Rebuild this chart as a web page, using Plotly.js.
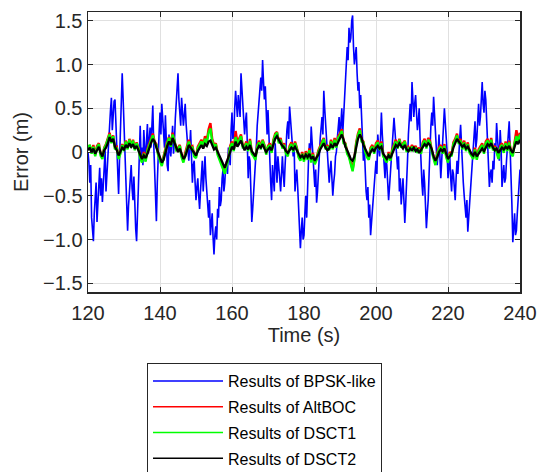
<!DOCTYPE html>
<html>
<head>
<meta charset="utf-8">
<script src="https://cdn.plot.ly/plotly-3.0.1.min.js"></script>
<style>html,body{margin:0;padding:0;background:#fff;}#chart{width:539px;height:472px;}</style>
</head>
<body>
<div id="chart"></div>
<script>
// Sampling: start time (s) and step of each series (s)
const tStart = 120;
const bpskStep = 0.25;
const otherStep = 0.5;

const seriesNames = ["Results of BPSK-like", "Results of AltBOC", "Results of DSCT1", "Results of DSCT2"];

// one row = 5 s
const bpsk = [
 0.00,-0.12,-0.35,-0.15,-0.75,-0.92,-1.02,-0.70,-0.55,-0.35,-0.80,-0.62,-0.35,-0.18,-0.50,-0.30,-0.57,-0.38,-0.20, 0.02,
-0.45,-0.22,-0.05, 0.15, 0.30, 0.48, 0.62, 0.25, 0.40, 0.58, 0.60, 0.30, 0.05,-0.20,-0.48,-0.10, 0.25, 0.55, 0.90, 0.62,
 0.35, 0.05,-0.20,-0.60,-0.90,-0.62,-0.45,-0.25,-0.15,-0.42,-0.55,-0.28,-0.70,-0.88,-1.02,-0.78,-0.40,-0.05, 0.30,-0.08,
 0.05,-0.15, 0.25, 0.05,-0.10, 0.12, 0.32,-0.02, 0.12, 0.28, 0.05, 0.25, 0.53, 0.10,-0.30,-0.55,-0.79,-0.35, 0.10, 0.22,
 0.45, 0.20, 0.55, 0.35, 0.15, 0.05, 0.42, 0.10,-0.15,-0.22, 0.20, 0.02,-0.05, 0.12, 0.30,-0.02, 0.10, 0.38, 0.55, 0.70,
 0.90, 0.60, 0.45, 0.30, 0.62, 0.50, 0.30, 0.42, 0.55, 0.32, 0.20, 0.05,-0.10, 0.05, 0.25,-0.05,-0.35,-0.15,-0.10,-0.35,
-0.55,-0.40,-0.30,-0.50,-0.65,-0.45,-0.20,-0.10,-0.45,-0.25,-0.05,-0.30,-0.50,-0.60,-0.75,-0.55,-0.95,-0.82,-0.70,-0.98,
-1.17,-0.95,-0.85,-1.00,-0.65,-0.75,-0.40,-0.62,-0.55,-0.30,-0.20,-0.45,-0.35,-0.15,-0.10,-0.25, 0.05,-0.05,-0.15, 0.25,
 0.45, 0.15, 0.20, 0.50, 0.70, 0.55, 0.40, 0.65, 0.55, 0.40, 0.90, 0.70, 0.50, 0.30, 0.20, 0.35, 0.45, 0.10,-0.30,-0.05,
-0.10,-0.45,-0.80,-0.65,-0.50,-0.30,-0.20, 0.05, 0.30, 0.45, 0.60, 0.75, 0.85, 0.70, 1.05, 0.80, 0.60, 0.75, 0.35, 0.20,
 0.48, 0.10,-0.10,-0.35,-0.55,-0.15,-0.30,-0.45, 0.10,-0.10,-0.35,-0.05,-0.15,-0.30,-0.45,-0.20,-0.05,-0.25,-0.40,-0.15,
 0.10, 0.25, 0.35, 0.15, 0.52, 0.38, 0.20, 0.00,-0.05, 0.10,-0.45,-0.30,-0.20,-0.40,-0.60,-0.85,-1.10,-0.90,-0.75,-1.00,
-0.95,-0.70,-0.50,-0.75,-0.30,-0.10, 0.10,-0.05, 0.29, 0.10,-0.10,-0.25,-0.40,-0.20,-0.58,-0.45,-0.30,-0.05, 0.15, 0.30,
 0.40, 0.20, 0.70, 0.50, 0.35, 0.15, 0.05,-0.15,-0.35,-0.20,-0.10,-0.30,-0.50,-0.35,-0.25,-0.05, 0.00, 0.15, 0.30, 0.40,
 0.15, 0.35, 0.50, 0.20, 0.35, 0.60, 0.80, 1.00, 1.20, 1.05, 1.42, 1.25, 1.30, 1.50, 1.56, 1.20, 1.00, 1.10, 1.20, 0.90,
 0.70, 0.80, 0.50, 0.65, 0.39, 0.15,-0.10, 0.05,-0.30,-0.45,-0.55,-0.40,-0.75,-0.60,-0.95,-0.80,-0.70,-0.55,-0.40,-0.20,
-0.10,-0.25, 0.20, 0.05,-0.05, 0.15, 0.45, 0.20, 0.05,-0.10,-0.30,-0.05,-0.15,-0.35,-0.55,-0.40,-0.25,-0.05, 0.15, 0.25,
 0.39, 0.25, 0.10,-0.10,-0.20,-0.05,-0.45,-0.30,-0.60,-0.45,-0.30,-0.55,-0.81,-0.60,-0.40,-0.10, 0.20, 0.40, 0.55, 0.35,
 0.80, 0.60, 0.40, 0.55, 0.65, 0.45, 0.25, 0.35, 0.50, 0.15,-0.20,-0.35,-0.50,-0.20,-0.35,-0.60,-0.87,-0.70,-0.55,-0.25,
 0.10, 0.30, 0.45, 0.30, 0.63, 0.45, 0.30, 0.05,-0.15, 0.00, 0.20,-0.05,-0.30,-0.10, 0.05, 0.30, 0.50, 0.35, 0.25, 0.00,
-0.30,-0.15,-0.05,-0.30,-0.45,-0.20,-0.25,-0.40,-0.55,-0.30,-0.10,-0.25, 0.05, 0.15, 0.31, 0.05,-0.20,-0.35,-0.50,-0.60,
-0.75,-0.55,-0.91,-0.75,-0.60,-0.40,-0.30,-0.10, 0.10, 0.25, 0.35, 0.05, 0.15, 0.35, 0.55, 0.30, 0.40, 0.60, 0.80, 0.55,
 0.45, 0.70, 0.60, 0.35, 0.10,-0.15,-0.40,-0.25,-0.20,-0.35,-0.10,-0.20, 0.10, 0.00, 0.33, 0.15, 0.05,-0.10, 0.25, 0.05,
-0.40,-0.20,-0.15,-0.35,-0.30,-0.10, 0.10, 0.20, 0.35, 0.05,-0.20,-0.60,-1.03,-0.80,-0.70,-0.95,-0.90,-0.70,-0.55,-0.35,
-0.20
];

const altboc = [
 0.06, 0.07, 0.00, 0.08,-0.03, 0.07, 0.10,-0.02,-0.06, 0.05,
 0.09, 0.16, 0.22, 0.12, 0.19, 0.05, 0.06,-0.06, 0.00, 0.09,
 0.03, 0.13, 0.05, 0.15, 0.07, 0.14, 0.04, 0.11, 0.05,-0.05,
-0.10, 0.00,-0.09, 0.03, 0.10, 0.16, 0.21, 0.12, 0.09,-0.02,
-0.08,-0.14,-0.05, 0.05, 0.12, 0.17, 0.08, 0.22, 0.14, 0.04,
 0.05, 0.08,-0.04,-0.10,-0.01, 0.08, 0.14, 0.06, 0.07,-0.03,
-0.05, 0.06, 0.11, 0.14, 0.08, 0.18, 0.13, 0.26, 0.33, 0.15,
 0.08, 0.10,-0.01,-0.06,-0.12,-0.18,-0.22,-0.13,-0.06, 0.07,
 0.12, 0.03, 0.24, 0.11, 0.16, 0.20, 0.07, 0.07, 0.12, 0.03,
 0.15, 0.00,-0.03,-0.07, 0.08, 0.13, 0.05, 0.14, 0.08,-0.01,
 0.07, 0.10, 0.01, 0.14, 0.21, 0.23, 0.12, 0.16, 0.06, 0.10,
 0.00,-0.03, 0.07, 0.11, 0.02, 0.12, 0.05,-0.04,-0.08, 0.00,
-0.09, 0.01,-0.07, 0.04,-0.10,-0.01,-0.12,-0.07, 0.02, 0.08,
 0.12, 0.16, 0.05, 0.07, 0.04, 0.14, 0.05, 0.16, 0.07, 0.18,
 0.21, 0.26, 0.12, 0.10, 0.00,-0.04,-0.13,-0.20,-0.07, 0.11,
 0.21, 0.27, 0.14, 0.12, 0.02,-0.04,-0.07, 0.05, 0.08, 0.00,
 0.10, 0.13, 0.04, 0.12,-0.03,-0.07,-0.10, 0.00,-0.08, 0.03,
 0.09, 0.14, 0.06, 0.15, 0.07, 0.10, 0.13, 0.02, 0.06, 0.03,
 0.08, 0.04, 0.07, 0.01, 0.05, 0.00, 0.11, 0.15, 0.06, 0.16,
 0.13, 0.02,-0.07,-0.13,-0.01, 0.05, 0.08, 0.00, 0.09,-0.04,
-0.10, 0.00,-0.03, 0.11, 0.15, 0.21, 0.11, 0.15, 0.05, 0.13,
 0.03, 0.11, 0.01,-0.03,-0.06, 0.05,-0.07, 0.03, 0.07, 0.10,
 0.00, 0.12, 0.15, 0.06, 0.16, 0.04, 0.07, 0.02,-0.06, 0.07,
 0.10, 0.01, 0.12, 0.03, 0.13, 0.00,-0.03, 0.12, 0.25, 0.15,
 0.22
];

const dsct1 = [
 0.05, 0.08,-0.02, 0.06,-0.05, 0.05, 0.09,-0.04,-0.08, 0.04,
 0.08, 0.14, 0.20, 0.10, 0.18, 0.03, 0.05,-0.08,-0.02, 0.08,
 0.01, 0.12, 0.03, 0.14, 0.05, 0.13, 0.02, 0.10, 0.04,-0.07,
-0.12,-0.02,-0.11, 0.01, 0.08, 0.14, 0.19, 0.10, 0.08,-0.04,
-0.10,-0.16,-0.07, 0.03, 0.10, 0.16, 0.06, 0.20, 0.13, 0.02,
 0.03, 0.07,-0.06,-0.12,-0.03, 0.06, 0.12, 0.04, 0.05,-0.05,
-0.07, 0.04, 0.09, 0.12, 0.06, 0.15, 0.10, 0.22, 0.27, 0.12,
 0.06, 0.09,-0.03,-0.08,-0.14,-0.20,-0.25,-0.15,-0.08, 0.05,
 0.10, 0.01, 0.17, 0.09, 0.14, 0.18, 0.05, 0.05, 0.10, 0.01,
 0.13,-0.02,-0.05,-0.09, 0.06, 0.11, 0.03, 0.13, 0.07,-0.03,
 0.06, 0.08,-0.01, 0.12, 0.19, 0.22, 0.10, 0.14, 0.04, 0.08,
-0.02,-0.05, 0.05, 0.09, 0.00, 0.10, 0.04,-0.06,-0.10,-0.02,
-0.11,-0.01,-0.09, 0.02,-0.12,-0.03,-0.14,-0.09, 0.00, 0.06,
 0.10, 0.15, 0.03, 0.05, 0.02, 0.12, 0.03, 0.14, 0.05, 0.16,
 0.19, 0.24, 0.10, 0.09,-0.02,-0.06,-0.15,-0.22,-0.09, 0.09,
 0.19, 0.25, 0.12, 0.11, 0.00,-0.06,-0.09, 0.03, 0.06,-0.02,
 0.08, 0.11, 0.02, 0.10,-0.05,-0.09,-0.12,-0.02,-0.10, 0.01,
 0.07, 0.12, 0.04, 0.14, 0.05, 0.08, 0.12, 0.00, 0.04, 0.01,
 0.06, 0.02, 0.05,-0.01, 0.03,-0.02, 0.09, 0.13, 0.04, 0.14,
 0.11, 0.00,-0.09,-0.15,-0.03, 0.03, 0.06,-0.02, 0.07,-0.06,
-0.12,-0.02,-0.05, 0.09, 0.13, 0.19, 0.09, 0.13, 0.03, 0.11,
 0.01, 0.09,-0.01,-0.05,-0.08, 0.03,-0.09, 0.01, 0.05, 0.08,
-0.02, 0.10, 0.13, 0.04, 0.14, 0.02, 0.05, 0.00,-0.08, 0.05,
 0.08,-0.01, 0.10, 0.01, 0.11,-0.02,-0.05, 0.10, 0.18, 0.12,
 0.20
];

const dsct2 = [
 0.02, 0.05, 0.00, 0.04,-0.02, 0.03, 0.06,-0.01,-0.05, 0.02,
 0.05, 0.10, 0.17, 0.12, 0.15, 0.06, 0.02,-0.04, 0.00, 0.05,
 0.03, 0.08, 0.05, 0.10, 0.06, 0.09, 0.04, 0.07, 0.02,-0.03,
-0.08,-0.04,-0.07,-0.02, 0.05, 0.10, 0.15, 0.12, 0.05, 0.00,
-0.06,-0.12,-0.09, 0.00, 0.07, 0.12, 0.08, 0.16, 0.11, 0.05,
 0.00, 0.04,-0.02,-0.08,-0.05, 0.03, 0.08, 0.05, 0.02,-0.01,
-0.04, 0.01, 0.05, 0.08, 0.04, 0.09, 0.07, 0.12, 0.13, 0.08,
 0.03, 0.05, 0.00,-0.05,-0.10,-0.15,-0.18,-0.12,-0.05, 0.02,
 0.06, 0.03, 0.12, 0.06, 0.09, 0.13, 0.07, 0.02, 0.06, 0.03,
 0.08, 0.01,-0.02,-0.05, 0.03, 0.07, 0.05, 0.09, 0.04, 0.00,
 0.03, 0.05, 0.02, 0.08, 0.15, 0.18, 0.13, 0.10, 0.07, 0.05,
 0.01,-0.01, 0.02, 0.05, 0.03, 0.06, 0.02,-0.03,-0.06,-0.04,
-0.07,-0.03,-0.06,-0.02,-0.08,-0.05,-0.10,-0.06,-0.03, 0.03,
 0.06, 0.10, 0.05, 0.02, 0.04, 0.08, 0.05, 0.10, 0.07, 0.12,
 0.15, 0.20, 0.14, 0.06, 0.02,-0.03,-0.08,-0.10,-0.05, 0.05,
 0.15, 0.20, 0.16, 0.08, 0.03,-0.02,-0.05, 0.00, 0.03, 0.01,
 0.05, 0.07, 0.04, 0.06,-0.02,-0.05,-0.08,-0.04,-0.07,-0.02,
 0.04, 0.08, 0.06, 0.10, 0.07, 0.04, 0.08, 0.03, 0.01, 0.04,
 0.02, 0.05, 0.01, 0.03,-0.01, 0.02, 0.06, 0.09, 0.07, 0.10,
 0.08, 0.03,-0.05,-0.10,-0.06, 0.00, 0.03, 0.01, 0.04,-0.03,
-0.08,-0.05,-0.02, 0.05, 0.10, 0.15, 0.12, 0.09, 0.06, 0.08,
 0.04, 0.06, 0.02,-0.02,-0.04, 0.00,-0.05,-0.02, 0.02, 0.04,
 0.01, 0.06, 0.09, 0.07, 0.10, 0.05, 0.02, 0.04,-0.01, 0.02,
 0.05, 0.03, 0.06, 0.04, 0.07, 0.02,-0.01, 0.06, 0.12, 0.09,
 0.14
];

const xTicks = [120, 140, 160, 180, 200, 220, 240];
const yTicks = [-1.5, -1.0, -0.5, 0, 0.5, 1.0, 1.5];
const yTickText = ["\u22121.5", "\u22121.0", "\u22120.5", "0", "0.5", "1.0", "1.5"];

function times(arr, step) { return arr.map((_, i) => tStart + i * step); }

const colors = ["#0000ff", "#ff0000", "#00ff00", "#000000"];
const widths = [1.6, 2.4, 2.4, 2.3];
const allSeries = [bpsk, altboc, dsct1, dsct2];
const steps = [bpskStep, otherStep, otherStep, otherStep];

const traces = allSeries.map((ys, k) => ({
  x: times(ys, steps[k]), y: ys, type: "scatter", mode: "lines",
  name: seriesNames[k], showlegend: false, legendgroup: "g" + k,
  line: {color: colors[k], width: widths[k]}
}));
// legend entries (thin sample lines, no data of their own)
seriesNames.forEach((nm, k) => traces.push({
  x: [null], y: [null], type: "scatter", mode: "lines",
  name: nm, showlegend: true, legendgroup: "g" + k,
  line: {color: colors[k], width: 1.5}
}));

const axisFont = {family: "Liberation Sans, Arial, sans-serif", size: 20, color: "#262626"};

const layout = {
  width: 539, height: 472,
  margin: {l: 88, r: 19, t: 12, b: 180, pad: 0, autoexpand: false},
  paper_bgcolor: "#ffffff", plot_bgcolor: "#ffffff",
  showlegend: true,
  legend: {
    x: 0.1366, y: -0.2536, xanchor: "left", yanchor: "top",
    bgcolor: "#ffffff", bordercolor: "#262626", borderwidth: 1,
    font: {family: "Liberation Sans, Arial, sans-serif", size: 16, color: "#000000"},
    itemwidth: 70, tracegroupgap: 2
  },
  xaxis: {
    range: [120, 240], tickvals: xTicks, ticktext: xTicks.map(String),
    ticks: "inside", ticklen: 5, tickcolor: "#262626", tickwidth: 1,
    showline: true, linecolor: "#262626", linewidth: 1.5, mirror: "ticks",
    showgrid: true, gridcolor: "#e0e0e0", gridwidth: 1, zeroline: false,
    tickfont: axisFont, ticklabelstandoff: 2,
    title: {text: "Time (s)", font: axisFont, standoff: 0}
  },
  yaxis: {
    range: [-1.6, 1.6], tickvals: yTicks, ticktext: yTickText,
    ticks: "inside", ticklen: 5, tickcolor: "#262626", tickwidth: 1,
    showline: true, linecolor: "#262626", linewidth: 1.5, mirror: "ticks",
    showgrid: true, gridcolor: "#e0e0e0", gridwidth: 1, zeroline: false,
    tickfont: axisFont,
    title: {text: "Error (m)", font: axisFont, standoff: 9}
  }
};

Plotly.newPlot("chart", traces, layout, {displayModeBar: false, staticPlot: true});
</script>
</body>
</html>
